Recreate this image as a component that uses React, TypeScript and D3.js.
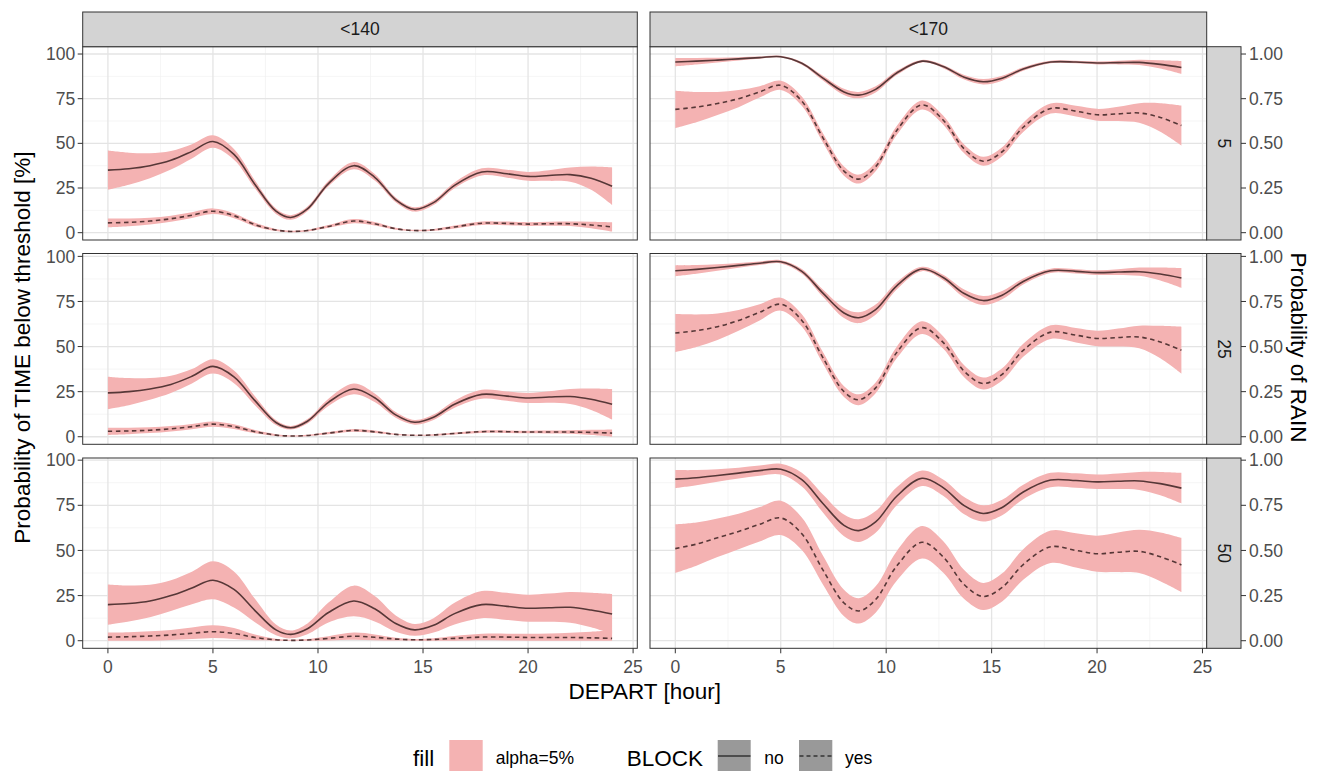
import React from 'react';
import * as d3 from 'd3';

// ---------- data ----------
const HOURS = [0, 1, 2, 3, 4, 5, 6, 7, 8, 8.7, 9.5, 10.5, 11.7, 12.7, 13.7, 14.6, 15.5, 16.5, 17.8, 19, 20, 21, 22, 23, 24];
const THRESHOLDS = ['<140', '<170'];
const RAIN_LEVELS = ['5', '25', '50'];
const X_TICKS = [0, 5, 10, 15, 20, 25];
const X_MINOR = [2.5, 7.5, 12.5, 17.5, 22.5];
const Y_TICKS = [0, 25, 50, 75, 100];
const Y_MINOR = [12.5, 37.5, 62.5, 87.5];
const Y_RIGHT_LABELS = ['0.00', '0.25', '0.50', '0.75', '1.00'];

// <140, RAIN 5
const T140_R5_NO = [35, 35.8, 37.5, 40.5, 45.5, 51, 43.8, 27, 12, 8.5, 13.3, 27.5, 37.5, 31, 18.4, 13, 16.8, 26.5, 34, 33, 31.5, 32, 32.5, 30.5, 26];
const T140_R5_NO_CI = [11, 9, 7, 5.2, 4, 3.5, 3, 2.2, 1.5, 1.3, 1.3, 1.5, 2, 1.8, 1.3, 1.2, 1.3, 1.6, 2, 2.2, 2.5, 3, 4, 6.5, 10.5];
const T140_R5_YES = [5.5, 5.8, 6.5, 7.8, 9.8, 12, 9.5, 4.5, 1.5, 0.7, 1.2, 3.5, 6.5, 5, 2.2, 1.2, 1.6, 3.2, 5.3, 5.2, 4.8, 5, 5, 4.3, 3.2];
const T140_R5_YES_CI = [2.5, 2.2, 1.9, 1.7, 1.6, 1.6, 1.4, 1, 0.6, 0.4, 0.5, 0.8, 1.2, 1, 0.6, 0.4, 0.5, 0.8, 1, 1, 1, 1.1, 1.3, 1.8, 2.6];
// <170, RAIN 5
const T170_R5_NO = [95.5, 96, 96.6, 97.3, 98, 98.5, 94.8, 86.5, 78.8, 77, 80.2, 89.4, 96, 93, 87, 84.5, 86.5, 91.6, 95.5, 95.5, 95, 95.2, 95.3, 94.2, 92.5];
const T170_R5_NO_CI = [2.3, 1.8, 1.3, 0.9, 0.6, 0.5, 0.8, 1.3, 1.7, 1.8, 1.7, 1.2, 0.7, 0.9, 1.3, 1.5, 1.4, 1, 0.7, 0.7, 0.8, 1, 1.5, 2.3, 3.6];
const T170_R5_YES = [69, 70.3, 72.3, 75, 78.8, 82.5, 73.6, 53.1, 34.5, 30, 36.9, 57.2, 71.5, 63.1, 46.9, 40, 45.3, 59, 69.5, 68, 66, 66.5, 67, 64.5, 60];
const T170_R5_YES_CI = [10.5, 8.5, 6.5, 4.8, 3.2, 2.6, 2.6, 2.6, 2.6, 2.5, 2.5, 2.5, 2.5, 2.5, 2.5, 2.5, 2.5, 2.6, 2.8, 3, 3.3, 4, 5.5, 8, 11.2];
// <140, RAIN 25
const T140_R25_NO = [24.3, 25, 26.5, 29, 33.5, 39, 33.2, 20, 7.9, 5, 8.6, 19.1, 26.5, 21.6, 12.1, 8, 10.8, 18, 23.5, 22.5, 21.5, 22, 22.3, 20.8, 18];
const T140_R25_NO_CI = [9, 7.5, 6, 4.8, 4, 4, 3.5, 2.5, 1.4, 1, 1.2, 2, 3, 2.4, 1.6, 1.3, 1.5, 2, 2.5, 2.6, 2.8, 3.2, 4.2, 6, 8.5];
const T140_R25_YES = [3, 3.2, 3.6, 4.4, 5.6, 7, 5.6, 2.8, 0.9, 0.4, 0.7, 2, 3.5, 2.7, 1.3, 0.8, 1, 1.8, 2.8, 2.8, 2.6, 2.6, 2.6, 2.4, 2];
const T140_R25_YES_CI = [2, 1.8, 1.6, 1.5, 1.5, 1.5, 1.3, 0.9, 0.5, 0.3, 0.4, 0.6, 0.8, 0.7, 0.4, 0.3, 0.4, 0.5, 0.7, 0.7, 0.7, 0.8, 1, 1.4, 2];
// <170, RAIN 25
const T170_R25_NO = [92, 92.8, 93.8, 95, 96.2, 97, 91.7, 79.6, 68.6, 66, 70.5, 83.7, 93, 88.3, 79.4, 75.5, 78.5, 86.1, 92, 91.7, 91, 91.3, 91.5, 90.2, 88];
const T170_R25_NO_CI = [3, 2.4, 1.8, 1.3, 1, 0.9, 1.3, 2, 2.8, 3, 2.8, 2, 1.2, 1.5, 2.2, 2.5, 2.3, 1.7, 1.2, 1.2, 1.3, 1.6, 2.3, 3.6, 5.5];
const T170_R25_YES = [57.5, 58.8, 61, 64.5, 69, 73.5, 64.5, 43.8, 25, 20.5, 27.1, 46.7, 60.5, 52.3, 36.3, 29.5, 34.6, 47.9, 58, 56.3, 54.5, 55, 55.3, 52.5, 48];
const T170_R25_YES_CI = [10.5, 9, 7.3, 5.8, 4.5, 3.6, 3.4, 3.2, 3, 3, 3, 3.2, 3.5, 3.4, 3.3, 3.3, 3.4, 3.6, 3.8, 4, 4.3, 5, 6.3, 9, 13];
// <140, RAIN 50
const T140_R50_NO = [20, 20.6, 22, 25, 29.2, 33.5, 28.4, 16.7, 6, 3.5, 6.6, 15.6, 22, 17.7, 9.5, 6, 8.5, 15, 20, 19, 18, 18.3, 18.5, 17, 14.8];
const T140_R50_NO_CI = [11.2, 10, 9, 8.5, 9, 10.5, 10, 6.5, 3, 2.2, 3, 5.5, 8.5, 7, 4.5, 3.3, 4, 6, 7.5, 7.5, 7.5, 7.8, 8.5, 9.5, 11];
const T140_R50_YES = [2, 2.2, 2.6, 3.2, 4.1, 5, 4, 1.8, 0.5, 0.2, 0.4, 1.3, 2.5, 1.9, 0.9, 0.5, 0.7, 1.3, 2, 2, 1.8, 1.8, 1.8, 1.6, 1.3];
const T140_R50_YES_CI = [2.5, 2.5, 2.6, 2.8, 3.2, 3.5, 3, 1.6, 0.6, 0.3, 0.5, 1.2, 2, 1.6, 0.8, 0.5, 0.7, 1.3, 1.8, 1.9, 2, 2.2, 2.6, 3.4, 4.5];
// <170, RAIN 50
const T170_R50_NO = [89.5, 90.3, 91.5, 92.8, 94.2, 95, 89.2, 76, 63.9, 61, 65.8, 80, 90, 84.8, 74.8, 70.5, 73.8, 82.4, 89, 88.7, 88, 88.3, 88.5, 87, 84.5];
const T170_R50_NO_CI = [5, 4.2, 3.5, 3, 2.8, 3, 3.8, 5, 6, 6.3, 6, 5, 4.3, 4.5, 4.8, 4.5, 4.3, 4, 4, 4, 4, 4.3, 5, 6.5, 8.5];
const T170_R50_YES = [51, 53.5, 57, 60.5, 64.5, 68, 59.2, 39.2, 20.9, 16.5, 22.8, 41.4, 54.5, 46.5, 31.1, 24.5, 29.5, 42.2, 52, 50, 48.2, 49, 49.5, 46.5, 42];
const T170_R50_YES_CI = [13.5, 12, 10.7, 9.8, 9.5, 9.5, 9, 8, 7.3, 7, 7.3, 8.2, 9, 8.7, 8, 7.5, 7.8, 8.5, 9, 9.5, 10, 11, 12, 13.5, 15];

const PANELS = [
  { row: 0, col: 0, no: T140_R5_NO, noCi: T140_R5_NO_CI, yes: T140_R5_YES, yesCi: T140_R5_YES_CI },
  { row: 0, col: 1, no: T170_R5_NO, noCi: T170_R5_NO_CI, yes: T170_R5_YES, yesCi: T170_R5_YES_CI },
  { row: 1, col: 0, no: T140_R25_NO, noCi: T140_R25_NO_CI, yes: T140_R25_YES, yesCi: T140_R25_YES_CI },
  { row: 1, col: 1, no: T170_R25_NO, noCi: T170_R25_NO_CI, yes: T170_R25_YES, yesCi: T170_R25_YES_CI },
  { row: 2, col: 0, no: T140_R50_NO, noCi: T140_R50_NO_CI, yes: T140_R50_YES, yesCi: T140_R50_YES_CI },
  { row: 2, col: 1, no: T170_R50_NO, noCi: T170_R50_NO_CI, yes: T170_R50_YES, yesCi: T170_R50_YES_CI },
];

// ---------- layout ----------
const W = 1322;
const H = 771;
const COLS = [
  { x0: 82.7, x1: 637.3 },
  { x0: 650, x1: 1206.7 },
];
const ROWS = [
  { y0: 46.7, y1: 240, lo: -4.1, hi: 104.1 },
  { y0: 253.5, y1: 444.3, lo: -4.2, hi: 101.6 },
  { y0: 458, y1: 648.3, lo: -4.2, hi: 101.2 },
];
const STRIP_TOP = 12;
const STRIP_RIGHT = 1241;
const FONT = '"Liberation Sans", Arial, Helvetica, sans-serif';
const RIBBON = '#F4B2B2';
const LINE = '#563737';
const BORDER = '#333333';
const STRIP_FILL = '#D3D3D3';
const AXIS_TEXT = '#4D4D4D';
const SMALL = 17.5;
const TITLE = 22.5;

export default function App() {
  const panels = PANELS.map((p, i) => {
    const c = COLS[p.col];
    const r = ROWS[p.row];
    const x = d3.scaleLinear().domain([-1.2, 25.2]).range([c.x0, c.x1]);
    const y = d3.scaleLinear().domain([r.lo, r.hi]).range([r.y1, r.y0]);
    const curve = d3.curveCatmullRom.alpha(0.5);
    const area = (mid: number[], ci: number[]) =>
      d3
        .area<number>()
        .x((_, k) => x(HOURS[k]))
        .y0((_, k) => y(Math.max(0, mid[k] - ci[k])))
        .y1((_, k) => y(Math.min(100, mid[k] + ci[k])))
        .curve(curve)(mid) as string;
    const line = (mid: number[]) =>
      d3
        .line<number>()
        .x((_, k) => x(HOURS[k]))
        .y((d) => y(d))
        .curve(curve)(mid) as string;
    const clipId = `clip${i}`;
    return (
      <g key={i}>
        <defs>
          <clipPath id={clipId}>
            <rect x={c.x0} y={r.y0} width={c.x1 - c.x0} height={r.y1 - r.y0} />
          </clipPath>
        </defs>
        <rect x={c.x0} y={r.y0} width={c.x1 - c.x0} height={r.y1 - r.y0} fill="#fff" />
        <g clipPath={`url(#${clipId})`}>
          {Y_MINOR.map((t) => (
            <line key={'ym' + t} x1={c.x0} x2={c.x1} y1={y(t)} y2={y(t)} stroke="#F0F0F0" strokeWidth={0.7} />
          ))}
          {X_MINOR.map((t) => (
            <line key={'xm' + t} x1={x(t)} x2={x(t)} y1={r.y0} y2={r.y1} stroke="#F0F0F0" strokeWidth={0.7} />
          ))}
          {Y_TICKS.map((t) => (
            <line key={'y' + t} x1={c.x0} x2={c.x1} y1={y(t)} y2={y(t)} stroke="#E4E4E4" strokeWidth={1.3} />
          ))}
          {X_TICKS.map((t) => (
            <line key={'x' + t} x1={x(t)} x2={x(t)} y1={r.y0} y2={r.y1} stroke="#E4E4E4" strokeWidth={1.3} />
          ))}
          <path d={area(p.no, p.noCi)} fill={RIBBON} />
          <path d={area(p.yes, p.yesCi)} fill={RIBBON} />
          <path d={line(p.no)} fill="none" stroke={LINE} strokeWidth={1.6} />
          <path d={line(p.yes)} fill="none" stroke={LINE} strokeWidth={1.6} strokeDasharray="4.5,3.5" />
        </g>
        <rect x={c.x0} y={r.y0} width={c.x1 - c.x0} height={r.y1 - r.y0} fill="none" stroke={BORDER} strokeWidth={1} />
        {p.col === 0 &&
          Y_TICKS.map((t) => (
            <g key={'ly' + t}>
              <line x1={c.x0 - 5} x2={c.x0} y1={y(t)} y2={y(t)} stroke={BORDER} strokeWidth={1} />
              <text x={c.x0 - 7.5} y={y(t)} dy="0.35em" textAnchor="end" fontSize={SMALL} fill={AXIS_TEXT}>
                {t}
              </text>
            </g>
          ))}
        {p.col === 1 &&
          Y_TICKS.map((t, k) => (
            <g key={'ry' + t}>
              <line x1={STRIP_RIGHT} x2={STRIP_RIGHT + 5} y1={y(t)} y2={y(t)} stroke={BORDER} strokeWidth={1} />
              <text x={STRIP_RIGHT + 8} y={y(t)} dy="0.35em" textAnchor="start" fontSize={SMALL} fill={AXIS_TEXT}>
                {Y_RIGHT_LABELS[k]}
              </text>
            </g>
          ))}
        {p.row === 2 &&
          X_TICKS.map((t) => (
            <g key={'bx' + t}>
              <line x1={x(t)} x2={x(t)} y1={r.y1} y2={r.y1 + 5} stroke={BORDER} strokeWidth={1} />
              <text x={x(t)} y={r.y1 + 18.5} dy="0.35em" textAnchor="middle" fontSize={SMALL} fill={AXIS_TEXT}>
                {t}
              </text>
            </g>
          ))}
        {p.col === 1 && (
          <g>
            <rect x={c.x1} y={r.y0} width={STRIP_RIGHT - c.x1} height={r.y1 - r.y0} fill={STRIP_FILL} stroke={BORDER} strokeWidth={1} />
            <text
              transform={`translate(${(c.x1 + STRIP_RIGHT) / 2},${(r.y0 + r.y1) / 2}) rotate(90)`}
              dy="0.35em"
              textAnchor="middle"
              fontSize={SMALL}
              fill="#1A1A1A"
            >
              {RAIN_LEVELS[p.row]}
            </text>
          </g>
        )}
        {p.row === 0 && (
          <g>
            <rect x={c.x0} y={STRIP_TOP} width={c.x1 - c.x0} height={r.y0 - STRIP_TOP} fill={STRIP_FILL} stroke={BORDER} strokeWidth={1} />
            <text x={(c.x0 + c.x1) / 2} y={(STRIP_TOP + r.y0) / 2} dy="0.35em" textAnchor="middle" fontSize={SMALL} fill="#1A1A1A">
              {THRESHOLDS[p.col]}
            </text>
          </g>
        )}
      </g>
    );
  });

  const midY = (ROWS[0].y0 + ROWS[2].y1) / 2;
  const midX = (COLS[0].x0 + COLS[1].x1) / 2;
  const legY = 740;
  const keyH = 33;

  return (
    <svg width={W} height={H} style={{ position: 'absolute', left: 0, top: 0, background: '#fff' }} fontFamily={FONT}>
      <rect x={0} y={0} width={W} height={H} fill="#fff" />
      {panels}
      <text transform={`translate(22,${midY}) rotate(-90)`} dy="0.35em" textAnchor="middle" fontSize={TITLE} fill="#000">
        Probability of TIME below threshold [%]
      </text>
      <text transform={`translate(1299,${midY}) rotate(90)`} dy="0.35em" textAnchor="middle" fontSize={TITLE} fill="#000">
        Probability of RAIN
      </text>
      <text x={midX} y={699} textAnchor="middle" fontSize={TITLE} fill="#000">
        DEPART [hour]
      </text>
      {/* legend */}
      <text x={413} y={legY + 25.5} fontSize={TITLE} fill="#000">fill</text>
      <rect x={449.3} y={legY} width={33.4} height={keyH} fill={RIBBON} />
      <text x={495.7} y={legY + 23.5} fontSize={SMALL} fill="#000">alpha=5%</text>
      <text x={626.7} y={legY + 25.5} fontSize={TITLE} fill="#000">BLOCK</text>
      <rect x={717.7} y={legY} width={33} height={keyH} fill="#999999" />
      <line x1={718} x2={750.5} y1={legY + 16} y2={legY + 16} stroke="#333" strokeWidth={1.6} />
      <text x={764.3} y={legY + 23.5} fontSize={SMALL} fill="#000">no</text>
      <rect x={799} y={legY} width={33.3} height={keyH} fill="#999999" />
      <line x1={799.5} x2={832} y1={legY + 16} y2={legY + 16} stroke="#333" strokeWidth={1.6} strokeDasharray="4,3" />
      <text x={845} y={legY + 23.5} fontSize={SMALL} fill="#000">yes</text>
    </svg>
  );
}
